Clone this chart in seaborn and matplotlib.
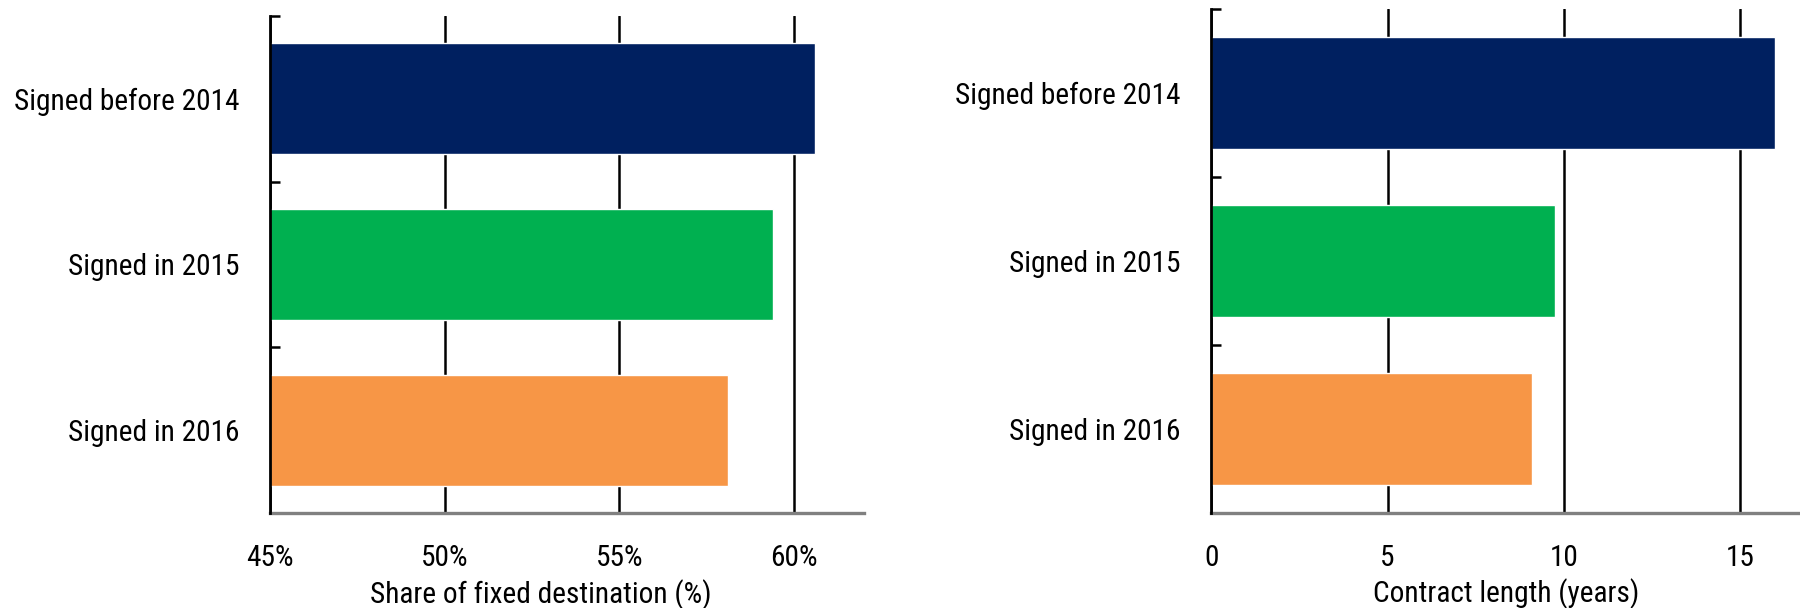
import numpy as np
import pandas as pd
import matplotlib
matplotlib.use("Agg")
import matplotlib.pyplot as plt
from matplotlib import font_manager as fm
import seaborn as sns

# Data
categories = ["Signed before 2014", "Signed in 2015", "Signed in 2016"]
fixed_share = [60.6, 59.4, 58.1]          # %
contract_len = [16.0, 9.75, 9.1]           # years
share_ticks = [45, 50, 55, 60]
share_labels = ["45%", "50%", "55%", "60%"]
length_ticks = [0, 5, 10, 15]
length_labels = ["0", "5", "10", "15"]
bar_colors = ["#002060", "#00B050", "#F79646"]


# the original uses a narrow font -> pick a condensed one if we have any
def pick_font():
    names = {f.name for f in fm.fontManager.ttflist}
    for n in ["Liberation Sans Narrow", "Arial Narrow", "Roboto Condensed",
              "Open Sans Condensed", "DejaVu Sans Condensed"]:
        if n in names:
            return n, "normal"
    for f in fm.fontManager.ttflist:
        if f.stretch in ("condensed", "semi-condensed") and f.style == "normal" \
                and f.weight in (400, "normal", "regular"):
            return f.name, f.stretch
    return "Liberation Sans", "normal"


font_name, font_stretch = pick_font()

sns.set_style("white")
plt.rcParams["font.family"] = [font_name, "DejaVu Sans"]
plt.rcParams["font.stretch"] = font_stretch

fig = plt.figure(figsize=(18, 6.08), dpi=100)

# size the text so "Signed before 2014" is ~225 px wide like the reference
probe = fig.text(0, 0, categories[0], fontsize=20)
fig.canvas.draw()
w = probe.get_window_extent().width
probe.remove()
fs = min(26, 20 * 225 / w)

ax1 = fig.add_axes([0.150, 0.156, 0.330, 0.818])
ax2 = fig.add_axes([0.673, 0.156, 0.327, 0.829])

df = pd.DataFrame({"cat": categories, "share": fixed_share, "length": contract_len})


def style_axis(ax, xticks, xlabels):
    ax.set_ylim(2.5, -0.5)
    ax.set_xticks(xticks)
    ax.set_xticklabels(xlabels)
    ax.set_axisbelow(True)
    ax.grid(axis="x", color="black", linewidth=1.8)
    ax.grid(axis="y", visible=False)
    for s in ["top", "right"]:
        ax.spines[s].set_visible(False)
    ax.spines["left"].set_color("black")
    ax.spines["left"].set_linewidth(2)
    ax.spines["left"].set_zorder(5)
    ax.spines["bottom"].set_color("#808080")
    ax.spines["bottom"].set_linewidth(2.4)
    # small ticks on the category borders, pointing into the plot
    ax.set_yticks([-0.5, 0.5, 1.5, 2.5], minor=True)
    ax.tick_params(axis="y", which="minor", left=True, direction="in",
                   length=7, width=1.8, color="black")
    ax.tick_params(axis="y", which="major", left=False, length=0, pad=22,
                   labelsize=fs, labelcolor="black")
    ax.tick_params(axis="x", length=0, pad=22, labelsize=fs, labelcolor="black")
    ax.set_ylabel("")


# Left panel: share of fixed destination
sns.barplot(data=df, y="cat", x="share", hue="cat", palette=bar_colors,
            orient="h", width=0.667, legend=False, ax=ax1, saturation=1)
ax1.set_xlim(45, 62)
style_axis(ax1, share_ticks, share_labels)
ax1.set_xlabel("Share of fixed destination (%)", fontsize=fs, va="center", color="black")
ax1.xaxis.set_label_coords(0.456, -0.163)

# Right panel: contract length
sns.barplot(data=df, y="cat", x="length", hue="cat", palette=bar_colors,
            orient="h", width=0.667, legend=False, ax=ax2, saturation=1)
ax2.set_xlim(0, 16.7)
style_axis(ax2, length_ticks, length_labels)
ax2.set_xlabel("Contract length (years)", fontsize=fs, va="center", color="black")
ax2.xaxis.set_label_coords(0.5, -0.160)

fig.savefig("out.png", dpi=100)
